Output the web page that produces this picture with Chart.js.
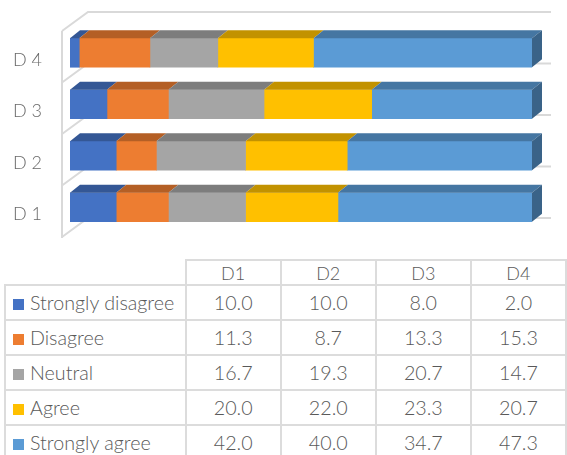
<!DOCTYPE html>
<html>
<head>
<meta charset="utf-8">
<script src="https://cdn.jsdelivr.net/npm/chart.js@4.4.1/dist/chart.umd.min.js"></script>
<style>
  html, body { margin: 0; padding: 0; background: #fff; }
  #wrap { position: relative; width: 567px; height: 455px; overflow: hidden; }
  #bars { position: absolute; left: 0; top: 0; }
  #dataTable {
    position: absolute; left: 4px; top: 259px;
    border-collapse: collapse; table-layout: fixed;
    font-family: Lato, sans-serif; font-weight: 300; font-size: 19.7px; color: #595959;
  }
  #dataTable td { border: 2px solid #dcdcdc; padding: 0; text-align: center; white-space: nowrap; }
  #dataTable tr.head td { height: 23px; font-size: 18px; }
  #dataTable tr.row td { height: 33px; }
  #dataTable td.name { text-align: left; padding-left: 7px; }
  #dataTable td.blank { border: none; }
  .swatch { display: inline-block; width: 11px; height: 11px; margin-right: 6px; vertical-align: 0px; }
</style>
</head>
<body>
<div id="wrap">
  <canvas id="bars" width="567" height="250"></canvas>
  <table id="dataTable"></table>
</div>
<script>
// categories and values (percent of answers)
var categories = ['D1', 'D2', 'D3', 'D4'];
var axisLabels = ['D 1', 'D 2', 'D 3', 'D 4'];
var seriesNames = ['Strongly disagree', 'Disagree', 'Neutral', 'Agree', 'Strongly agree'];
var stronglyDisagree = [10.0, 10.0, 8.0, 2.0];
var disagree = [11.3, 8.7, 13.3, 15.3];
var neutral = [16.7, 19.3, 20.7, 14.7];
var agree = [20.0, 22.0, 23.3, 20.7];
var stronglyAgree = [42.0, 40.0, 34.7, 47.3];
var seriesColors = ['#4472C4', '#ED7D31', '#A5A5A5', '#FFC000', '#5B9BD5'];

var seriesValues = [stronglyDisagree, disagree, neutral, agree, stronglyAgree];

// depth of the fake 3d
var DX = 10, DY = 8;

function shade(hex, f) {
    var n = parseInt(hex.slice(1), 16);
    var r = Math.round(((n >> 16) & 255) * f);
    var g = Math.round(((n >> 8) & 255) * f);
    var b = Math.round((n & 255) * f);
    return 'rgb(' + r + ',' + g + ',' + b + ')';
}

// walls / gridlines behind the bars
var wallsPlugin = {
    id: 'walls',
    beforeDatasetsDraw: function (chart) {
        var ctx = chart.ctx, a = chart.chartArea;
        var n = categories.length;
        var step = (a.bottom - a.top) / n;
        var fx = a.left - 8, bx = a.left + 18, rx = a.right + 19;
        ctx.save();
        ctx.strokeStyle = '#d9d9d9';
        ctx.lineWidth = 2;
        ctx.beginPath();
        ctx.moveTo(fx, a.bottom + 5);
        ctx.lineTo(fx, a.top + 4);
        for (var k = 0; k <= n; k++) {
            var yf = a.top + 4 + k * step;
            ctx.moveTo(fx, yf);
            ctx.lineTo(bx, yf - 19);
            ctx.lineTo(rx, yf - 19);
        }
        ctx.stroke();
        ctx.restore();
    }
};

// top and right faces for each bar segment
var facesPlugin = {
    id: 'faces',
    afterDatasetsDraw: function (chart) {
        var ctx = chart.ctx;
        var last = chart.data.datasets.length - 1;
        ctx.save();
        chart.data.datasets.forEach(function (ds, d) {
            var meta = chart.getDatasetMeta(d);
            meta.data.forEach(function (bar) {
                var p = bar.getProps(['x', 'y', 'base', 'height'], true);
                var l = Math.min(p.base, p.x), r = Math.max(p.base, p.x);
                var t = p.y - p.height / 2, b = p.y + p.height / 2;
                if (r - l < 0.5) return;
                ctx.fillStyle = shade(ds.backgroundColor, 0.76);
                ctx.beginPath();
                ctx.moveTo(l, t);
                ctx.lineTo(l + DX, t - DY);
                ctx.lineTo(r + DX, t - DY);
                ctx.lineTo(r, t);
                ctx.closePath();
                ctx.fill();
                if (d === last) {
                    ctx.fillStyle = shade(ds.backgroundColor, 0.64);
                    ctx.beginPath();
                    ctx.moveTo(r, t);
                    ctx.lineTo(r + DX, t - DY);
                    ctx.lineTo(r + DX, b - DY);
                    ctx.lineTo(r, b);
                    ctx.closePath();
                    ctx.fill();
                }
            });
        });
        ctx.restore();
    }
};

var chartData = {
    labels: categories,
    datasets: seriesNames.map(function (name, i) {
        return {
            label: name,
            data: seriesValues[i],
            backgroundColor: seriesColors[i],
            borderWidth: 0,
            barThickness: 29
        };
    })
};

var config = {
    type: 'bar',
    data: chartData,
    options: {
        indexAxis: 'y',
        responsive: false,
        animation: false,
        layout: { padding: { left: 13, right: 35, top: 27, bottom: 17 } },
        plugins: { legend: { display: false }, tooltip: { enabled: false } },
        scales: {
            x: { stacked: true, min: 0, max: 100, display: false },
            y: {
                stacked: true,
                reverse: true,
                grid: { display: false },
                border: { display: false },
                afterFit: function (scale) { scale.width = 57; },
                ticks: {
                    crossAlign: 'far',
                    labelOffset: 7,
                    color: '#6a6a6a',
                    font: { family: 'Lato', weight: 300, size: 18 },
                    callback: function (v, i) { return axisLabels[i]; }
                }
            }
        }
    },
    plugins: [wallsPlugin, facesPlugin]
};

var barChart = new Chart(document.getElementById('bars'), config);

// data table with legend keys
var table = document.getElementById('dataTable');
var html = '<colgroup><col style="width:181px">';
categories.forEach(function () { html += '<col style="width:97px">'; });
html += '</colgroup><tr class="head"><td class="blank"></td>';
categories.forEach(function (c) { html += '<td>' + c + '</td>'; });
html += '</tr>';
seriesNames.forEach(function (name, i) {
    html += '<tr class="row"><td class="name"><span class="swatch" style="background:' +
        seriesColors[i] + '"></span>' + name + '</td>';
    seriesValues[i].forEach(function (v) { html += '<td>' + v.toFixed(1) + '</td>'; });
    html += '</tr>';
});
table.innerHTML = html;
</script>
</body>
</html>
